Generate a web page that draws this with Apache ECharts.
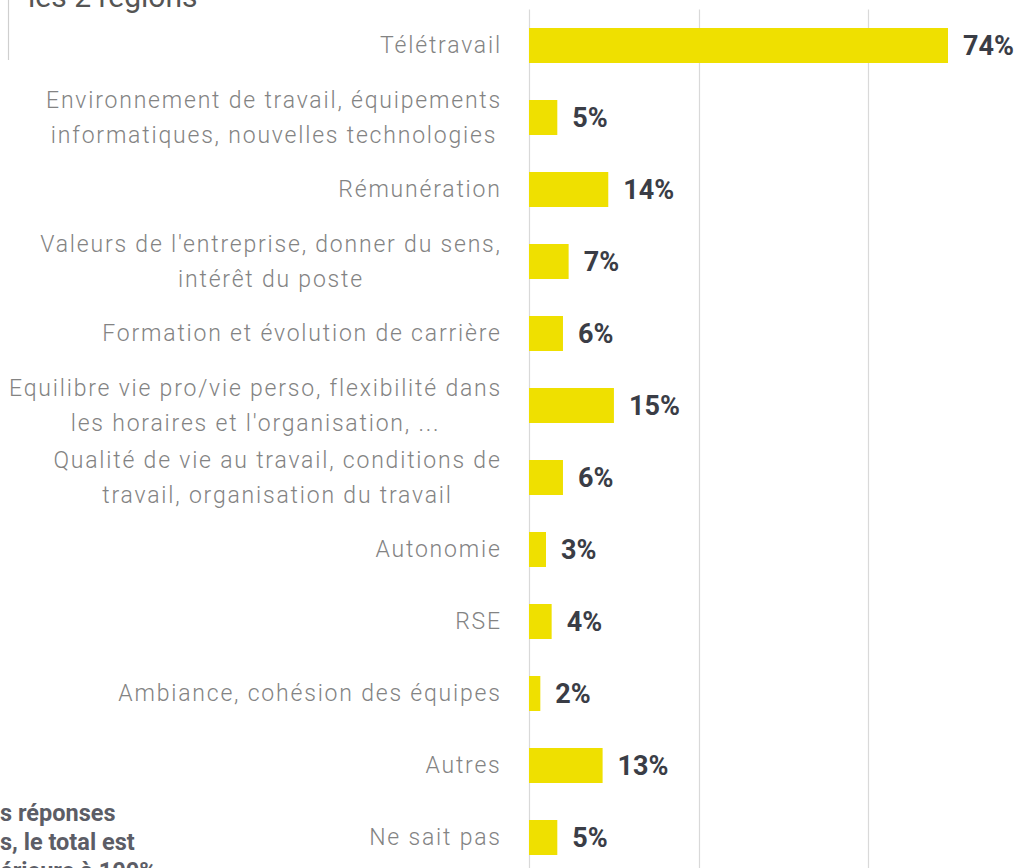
<!DOCTYPE html>
<html>
<head>
<meta charset="utf-8">
<script src="https://cdn.jsdelivr.net/npm/echarts@6/dist/echarts.min.js"></script>
<style>
  html, body { margin: 0; padding: 0; background: #fff; }
  #chart { width: 1021px; height: 868px; }
  #chart text[style*="300"] { letter-spacing: 1.8px; }
</style>
</head>
<body>
<div id="chart"></div>
<script>
const categories = [
  "Télétravail",
  "Environnement de travail, équipements\ninformatiques, nouvelles technologies",
  "Rémunération",
  "Valeurs de l'entreprise, donner du sens,\nintérêt du poste",
  "Formation et évolution de carrière",
  "Equilibre vie pro/vie perso, flexibilité dans\nles horaires et l'organisation, ...",
  "Qualité de vie au travail, conditions de\ntravail, organisation du travail",
  "Autonomie",
  "RSE",
  "Ambiance, cohésion des équipes",
  "Autres",
  "Ne sait pas"
];
const values = [74, 5, 14, 7, 6, 15, 6, 3, 4, 2, 13, 5];
const topText = "les 2 régions";
const noteLines = ["s réponses", "s, le total est", "érieure à 100%"];

const SPACING = 1.8;
const LABEL_SIZE = 23;
const measureCtx = document.createElement('canvas').getContext('2d');
measureCtx.font = '300 ' + LABEL_SIZE + 'px Roboto';
const rich = {};
categories.forEach((c, i) => {
  const w = Math.max(...c.split('\n').map(l => measureCtx.measureText(l).width + SPACING * l.length));
  rich['r' + i] = {
    width: Math.ceil(w),
    align: 'center',
    fontFamily: 'Roboto',
    fontWeight: 300,
    fontSize: LABEL_SIZE,
    lineHeight: 35,
    color: '#838383'
  };
});

const chart = echarts.init(document.getElementById('chart'), null, { renderer: 'svg' });
chart.setOption({
  animation: false,
  backgroundColor: '#ffffff',
  grid: { left: 529, top: 9.5, width: 509.6, height: 864, containLabel: false, outerBoundsMode: 'none' },
  xAxis: {
    type: 'value',
    min: 0, max: 90, interval: 30,
    axisLabel: { show: false },
    axisLine: { show: false },
    axisTick: { show: false },
    splitLine: { show: true, lineStyle: { color: '#d9d9d9', width: 1.2 } }
  },
  yAxis: {
    type: 'category',
    inverse: true,
    data: categories,
    axisLine: { show: false },
    axisTick: { show: false },
    axisLabel: {
      margin: 27,
      align: 'right',
      formatter: (value, index) => value.split('\n').map(l => '{r' + index + '|' + l + '}').join('\n'),
      rich: rich
    }
  },
  series: [{
    type: 'bar',
    data: values,
    barWidth: 35,
    itemStyle: { color: '#efe000' },
    label: {
      show: true,
      position: 'right',
      distance: 15,
      formatter: '{c}%',
      fontFamily: 'Roboto',
      fontWeight: 'bold',
      fontSize: 27,
      color: '#3a3d46'
    }
  }],
  graphic: [
    { type: 'line', shape: { x1: 8.5, y1: 0, x2: 8.5, y2: 60 }, style: { stroke: '#cfcfcf', lineWidth: 1.2 } },
    { type: 'text', x: 28, y: -4, style: { text: topText, font: 'normal 30px Roboto', fill: '#555555', verticalAlign: 'middle', align: 'left' } },
    { type: 'text', x: 0, y: 842, style: { text: noteLines.join('\n'), font: 'bold 23.5px Roboto', lineHeight: 29, fill: '#5c5d66', verticalAlign: 'middle', align: 'left' } }
  ]
});
</script>
</body>
</html>
